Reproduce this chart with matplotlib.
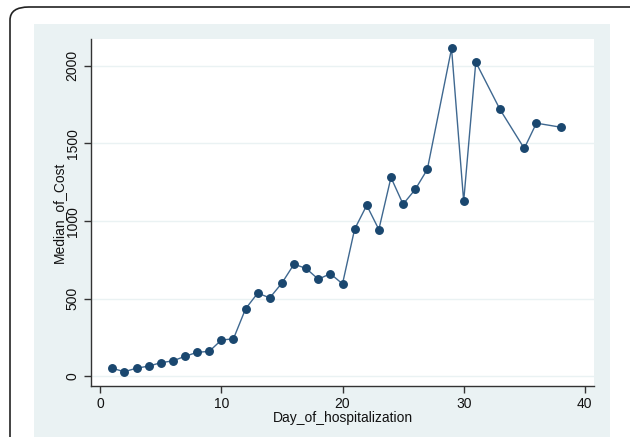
import matplotlib
matplotlib.use("Agg")
import matplotlib.pyplot as plt
from matplotlib.patches import FancyBboxPatch, Rectangle

plt.rcParams['font.family'] = ['Liberation Sans', 'DejaVu Sans']

days = [1, 2, 3, 4, 5, 6, 7, 8, 9, 10, 11, 12, 13, 14, 15, 16, 17, 18, 19, 20,
        21, 22, 23, 24, 25, 26, 27, 29, 30, 31, 33, 35, 36, 38]
median_cost = [52, 30, 53, 66, 88, 100, 129, 155, 161, 234, 242, 435, 536, 506,
               601, 723, 695, 626, 661, 596, 948, 1102, 946, 1281, 1109, 1204,
               1333, 2112, 1127, 2024, 1719, 1468, 1631, 1605]
x_ticks = [0, 10, 20, 30, 40]
y_ticks = [0, 500, 1000, 1500, 2000]

W, H = 630, 437
fig = plt.figure(figsize=(W / 100, H / 100), dpi=100)
fig.patch.set_facecolor('white')

# outer rounded frame
frame = FancyBboxPatch((10 / W, 1 - 470 / H), 640 / W, 463 / H,
                       boxstyle="round,pad=0,rounding_size=0.03",
                       transform=fig.transFigure, fill=False,
                       edgecolor='#222222', linewidth=1.2, clip_on=False,
                       zorder=-3)
fig.patches.append(frame)

# Stata light blue panel
panel = Rectangle((34 / W, 0), (610 - 34) / W, 1 - 24 / H,
                  transform=fig.transFigure, facecolor='#eaf2f3',
                  edgecolor='none', zorder=-2)
fig.patches.append(panel)

ax = fig.add_axes([90.7 / W, 1 - 385.7 / H, (594.3 - 90.7) / W, (385.7 - 39) / H])
ax.set_facecolor('white')

navy = '#1a476f'
ax.plot(days, median_cost, color='#3f6890', linewidth=1.0, zorder=2)
ax.plot(days, median_cost, linestyle='none', marker='o',
        markersize=5.4, markerfacecolor=navy, markeredgecolor=navy, zorder=3)

ax.set_xlim(-0.78, 40.78)
ax.set_ylim(-60, 2173)
ax.set_xticks(x_ticks)
ax.set_yticks(y_ticks)
ax.set_yticklabels([str(v) for v in y_ticks], rotation=90, va='center')
ax.yaxis.grid(True, color='#eaf2f3', linewidth=1.0)
ax.set_axisbelow(True)

for s in ['top', 'right']:
    ax.spines[s].set_visible(False)
for s in ['left', 'bottom']:
    ax.spines[s].set_color('#333333')
    ax.spines[s].set_linewidth(1.0)

ax.tick_params(axis='both', direction='out', length=5, width=1.0,
               color='#333333', labelsize=10, labelcolor='#111111')
ax.tick_params(axis='x', pad=3)
ax.tick_params(axis='y', pad=3)

ax.set_xlabel('Day_of_hospitalization', fontsize=10, color='#111111', labelpad=0)
ax.set_ylabel('Median_of_Cost', fontsize=10, color='#111111', labelpad=0)

fig.savefig('out.png', dpi=100)
